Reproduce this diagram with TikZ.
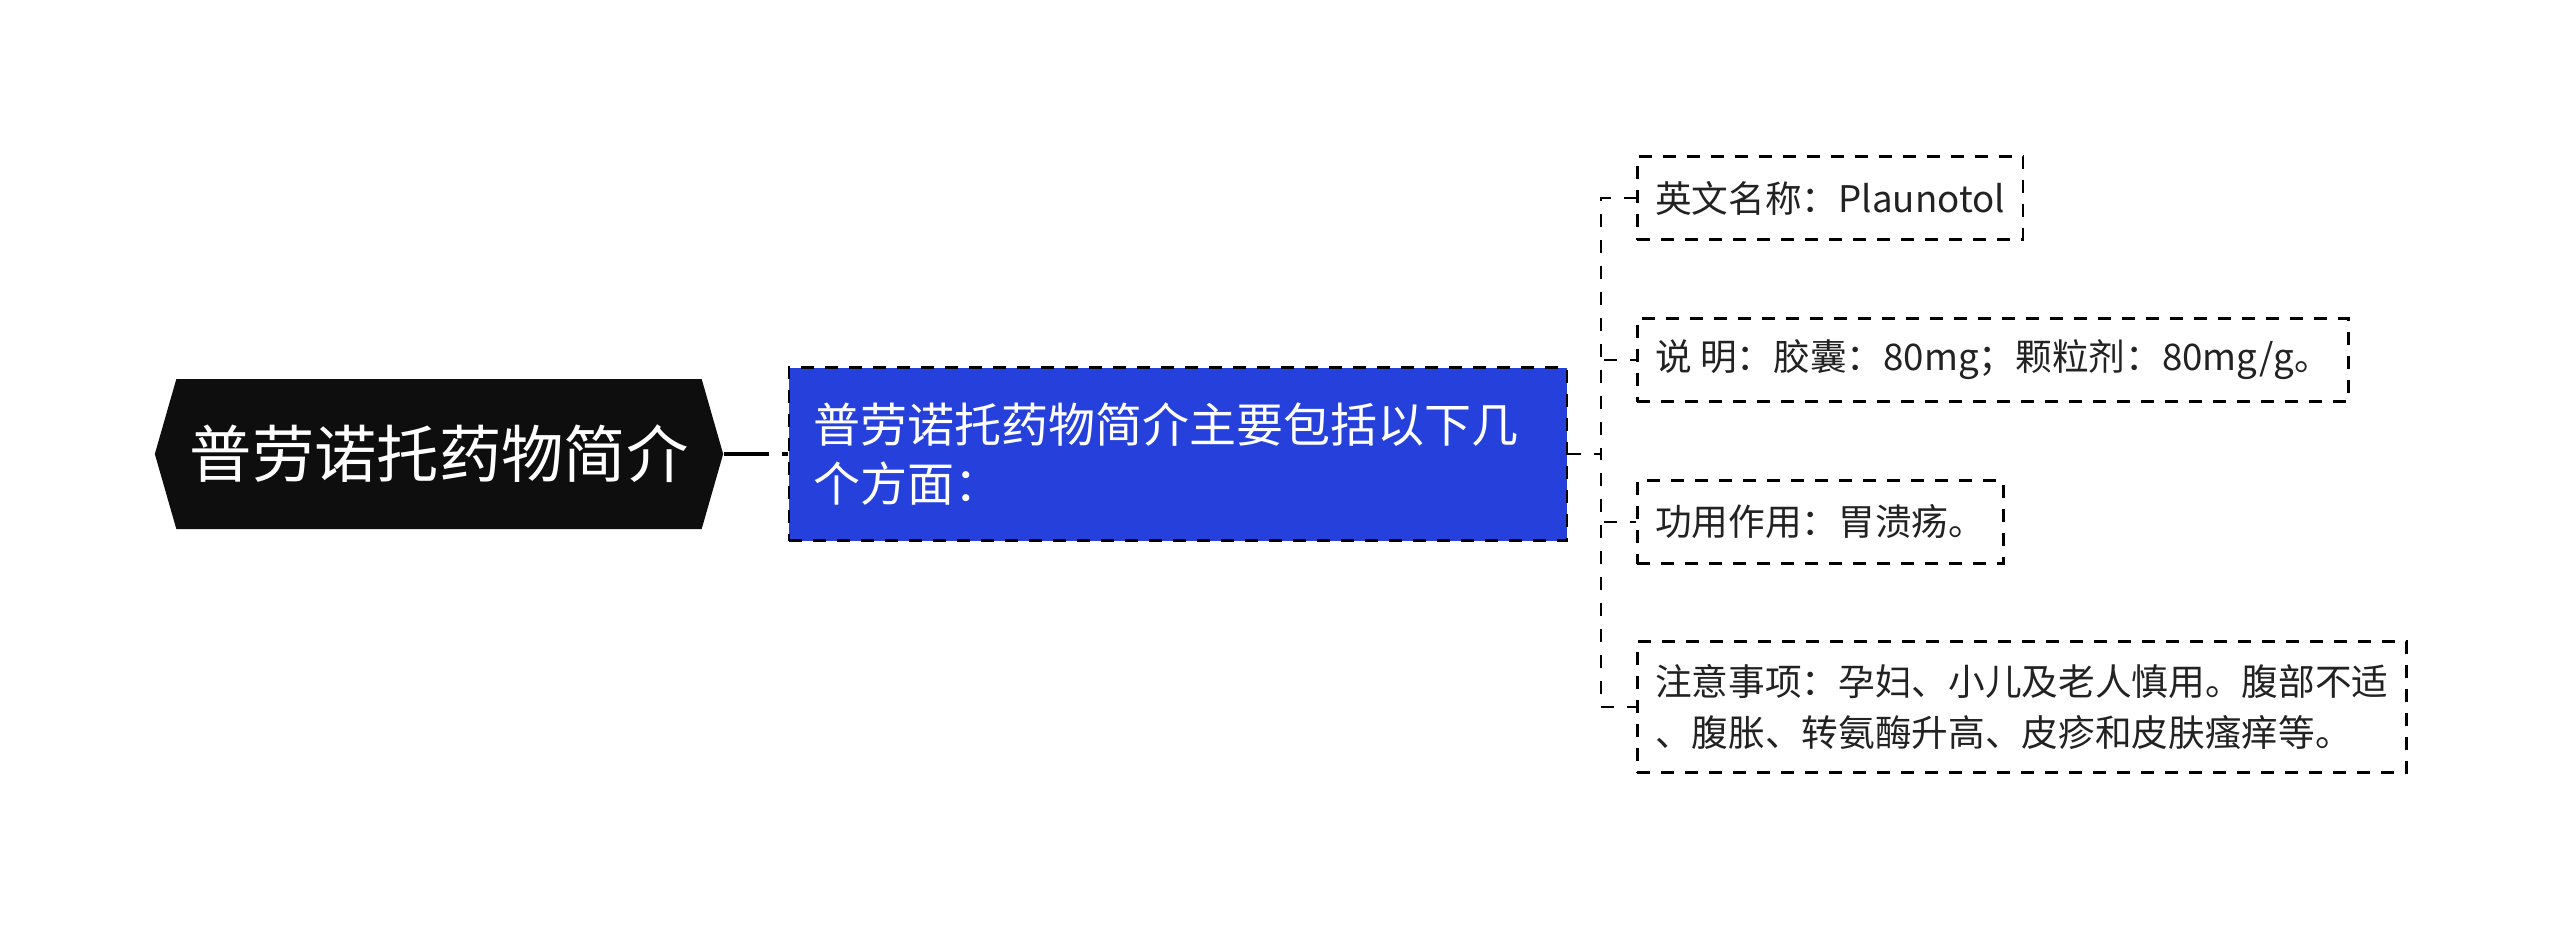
\documentclass[tikz,border=0pt]{standalone}
\usepackage{fontspec}
\setmainfont{Noto Sans CJK SC}
\usepackage{tikz}
\usetikzlibrary{shapes}

\definecolor{introblue}{RGB}{37,64,219}
\definecolor{rootblack}{RGB}{14,14,14}
\definecolor{leaftext}{RGB}{34,34,34}

\begin{document}
\begin{tikzpicture}[x=0.3pt,y=-0.3pt,
  leaf/.style={draw,dash pattern=on 3.9pt off 3.3pt,line width=0.75pt,anchor=west,inner xsep=5.4pt,minimum height=24.9pt,align=left,text=leaftext,font=\fontsize{11}{15.2}\selectfont},
  link/.style={draw,dash pattern=on 3.9pt off 3.9pt,line width=0.75pt}]
\useasboundingbox (0,0) rectangle (2560,930);
\node [signal,signal to=east and west,signal pointer angle=148,fill=rootblack,text=white,minimum height=45pt,inner xsep=4pt,font=\fontsize{18.7}{22}\selectfont] (root) at (439,454) {普劳诺托药物简介};
\node [draw,dash pattern=on 3.9pt off 3.3pt,line width=0.75pt,fill=introblue,text=white,text width=219pt,inner xsep=7.2pt,minimum height=51.9pt,align=left,font=\fontsize{14.1}{17.6}\selectfont] (intro) at (1178,454) {普劳诺托药物简介主要包括以下几\\个方面：};
\node [leaf] (en) at (1636,198) {英文名称：Plaunotol};
\node [leaf] (spec) at (1636,360) {说 明：胶囊：80mg；颗粒剂：80mg/g。};
\node [leaf] (func) at (1636,522) {功用作用：胃溃疡。};
\node [leaf,minimum height=39.3pt] (warn) at (1636,707) {注意事项：孕妇、小儿及老人慎用。腹部不适\\、腹胀、转氨酶升高、皮疹和皮肤瘙痒等。};
\coordinate (fork) at (1601,454);
\draw [line width=1pt,dash pattern=on 13.5pt off 3.9pt] (root.east) -- (intro.west);
\foreach \c in {en,spec,func,warn} \draw [link] (intro.east) -- (fork) |- (\c.west);
\end{tikzpicture}
\end{document}
